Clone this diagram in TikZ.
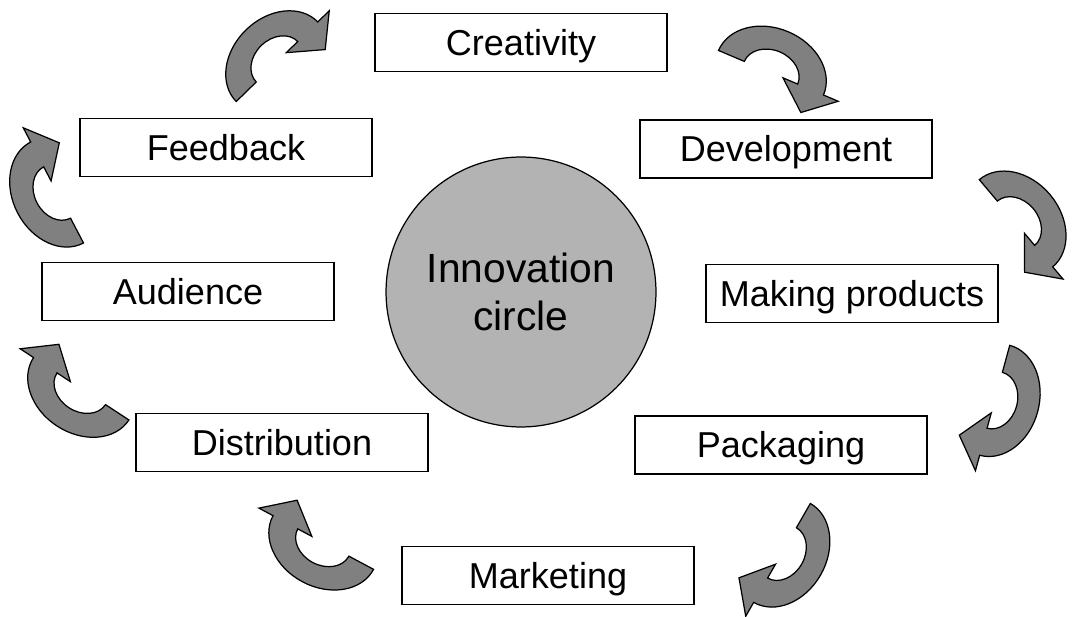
\documentclass[tikz,border=0pt]{standalone}
\usepackage{fontspec}
\setmainfont{Liberation Sans}

\definecolor{arrowgray}{RGB}{128,128,128}
\definecolor{circlegray}{RGB}{179,179,179}

% curved block arrow: centre, turn angle
\newcommand{\bendarrow}[2]{%
  \begin{scope}[shift={(#1)}, rotate=#2, yscale=0.78, x=0.02cm, y=0.02cm]
    \filldraw[fill=arrowgray, line width=0.7pt] (-57,0) arc[start angle=180, end angle=0, radius=57] -- (73,0) -- (43,-32) -- (13,0) -- (29,0) arc[start angle=0, end angle=180, radius=29] -- cycle;
  \end{scope}}

\begin{document}
\begin{tikzpicture}[x=0.02cm, y=-0.02cm,
    box/.style={draw, line width=0.7pt, minimum width=5.84cm, minimum height=1.16cm, inner sep=0pt,
      text height=14.7pt, text depth=0pt, font=\fontsize{20.5}{24}\selectfont}]
  \useasboundingbox (0,0) rectangle (1074,617);
  \node[circle, draw, fill=circlegray, line width=0.7pt, minimum size=5.4cm, inner sep=0pt, align=center,
    font=\fontsize{23.2}{27.8}\selectfont] (8) at (521,292) {Innovation\\circle};
  \node[box] (0) at (521,42.5) {Creativity};
  \node[box] (1) at (786,149) {Development};
  \node[box] (2) at (852,293.5) {Making products};
  \node[box] (3) at (781,445) {Packaging};
  \node[box] (4) at (548,575.5) {Marketing};
  \node[box] (5) at (282,442.5) {Distribution};
  \node[box] (6) at (188,291.5) {Audience};
  \node[box] (7) at (226,147.5) {Feedback};
  \bendarrow{771,72.75}{-23}
  \bendarrow{1016,223.25}{-49.9}
  \bendarrow{994.7,400.3}{-105.3}
  \bendarrow{782,552.9}{-119.8}
  \bendarrow{323.3,542.5}{151.9}
  \bendarrow{81.25,388.75}{146.8}
  \bendarrow{57.1,192.5}{117.6}
  \bendarrow{277,61.75}{44.3}
\end{tikzpicture}
\end{document}
